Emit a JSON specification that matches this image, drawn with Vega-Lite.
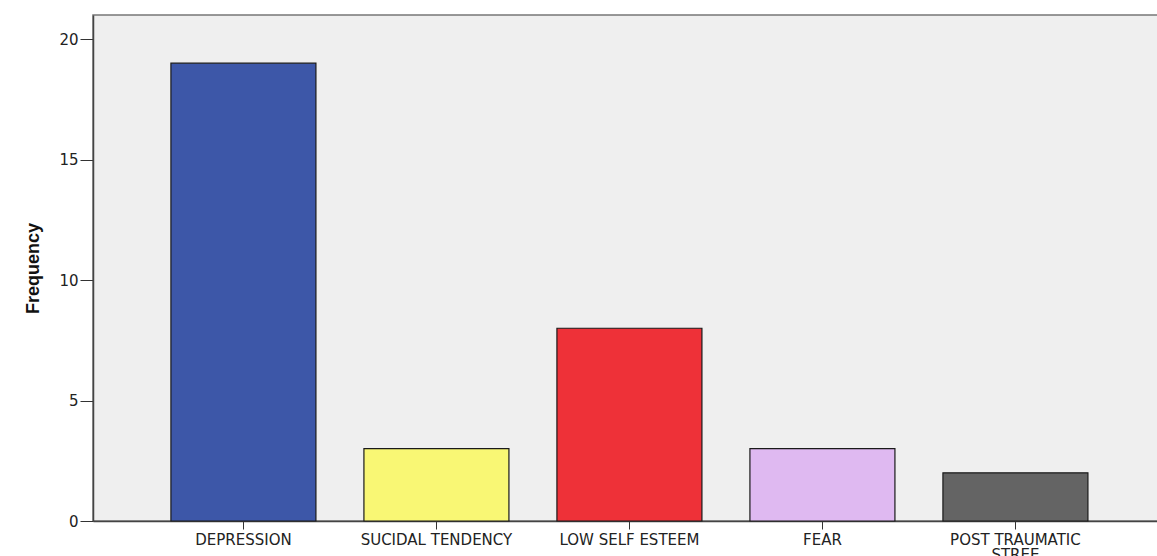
{
  "$schema": "https://vega.github.io/schema/vega-lite/v6.json",
  "width": 1066,
  "height": 506,
  "autosize": "none",
  "padding": {"left": 93, "top": 15, "right": 0, "bottom": 35},
  "background": "white",
  "data": {
    "values": [
      {"category": "DEPRESSION", "frequency": 19},
      {"category": "SUCIDAL TENDENCY", "frequency": 3},
      {"category": "LOW SELF ESTEEM", "frequency": 8},
      {"category": "FEAR", "frequency": 3},
      {"category": "POST TRAUMATIC STREE", "frequency": 2}
    ]
  },
  "mark": {"type": "bar", "stroke": "#1a1a1a", "strokeWidth": 1.2},
  "encoding": {
    "x": {
      "field": "category",
      "type": "nominal",
      "sort": null,
      "scale": {"paddingInner": 0.2487, "paddingOuter": 0.386, "align": 0.523},
      "axis": {
        "title": null,
        "labelAngle": 0,
        "labelFont": "DejaVu Sans",
        "labelFontSize": 15,
        "labelColor": "#222222",
        "labelPadding": 3,
        "labelLineHeight": 15,
        "tickSize": 8,
        "tickColor": "#333333",
        "domainColor": "#444444",
        "domainWidth": 1.5,
        "labelExpr": "datum.value == 'POST TRAUMATIC STREE' ? ['POST TRAUMATIC', 'STREE'] : datum.value"
      }
    },
    "y": {
      "field": "frequency",
      "type": "quantitative",
      "scale": {"domain": [0, 21], "nice": false},
      "axis": {
        "title": "Frequency",
        "titleFont": "Liberation Sans",
        "titleFontWeight": "bold",
        "titleFontSize": 18,
        "titleColor": "#111111",
        "titlePadding": 16,
        "values": [0, 5, 10, 15, 20],
        "grid": false,
        "labelFont": "DejaVu Sans",
        "labelFontSize": 15,
        "labelColor": "#222222",
        "labelPadding": 2,
        "tickSize": 13,
        "tickColor": "#333333",
        "domainColor": "#444444",
        "domainWidth": 1.5
      }
    },
    "color": {
      "field": "category",
      "type": "nominal",
      "sort": null,
      "scale": {
        "domain": ["DEPRESSION", "SUCIDAL TENDENCY", "LOW SELF ESTEEM", "FEAR", "POST TRAUMATIC STREE"],
        "range": ["#3d57a8", "#f9f774", "#ee3138", "#dfb9f1", "#646464"]
      },
      "legend": null
    }
  },
  "config": {
    "view": {"fill": "#efefef", "stroke": "#777777", "strokeWidth": 1.5}
  }
}
